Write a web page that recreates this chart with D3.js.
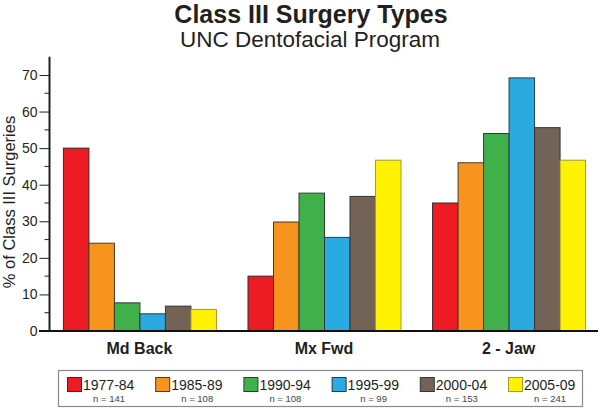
<!DOCTYPE html>
<html>
<head>
<meta charset="utf-8">
<script src="https://cdn.jsdelivr.net/npm/d3@7"></script>
<style>
  html, body { margin: 0; padding: 0; background: #fff; }
  svg { display: block; font-family: "Liberation Sans", Arial, sans-serif; }
</style>
</head>
<body>
<svg id="chart" width="600" height="409"></svg>
<script>
const categories = ["Md Back", "Mx Fwd", "2 - Jaw"];
const seriesNames = ["1977-84", "1985-89", "1990-94", "1995-99", "2000-04", "2005-09"];
const seriesN = ["n = 141", "n = 108", "n = 108", "n = 99", "n = 153", "n = 241"];
const s1977 = [50, 15, 35];
const s1985 = [24, 29.8, 46];
const s1990 = [7.7, 37.7, 54];
const s1995 = [4.7, 25.6, 69.2];
const s2000 = [6.8, 36.8, 55.6];
const s2005 = [5.9, 46.7, 46.7];
const seriesValues = [s1977, s1985, s1990, s1995, s2000, s2005];
const yTicks = [0, 10, 20, 30, 40, 50, 60, 70];
const colors = ["#ed1c24", "#f7941d", "#3fb04a", "#29abe2", "#736357", "#fff200"];
const strokes = ["#3a2a2a", "#4a3a2a", "#2f3f2f", "#2a3a44", "#3a3530", "#a39a35"];

const svg = d3.select("#chart");
const textColor = "#231f20";

const x0 = d3.scaleBand().domain(categories).range([50, 598]).paddingInner(0.171).paddingOuter(0.07);
const x1 = d3.scaleBand().domain(seriesNames).range([0, x0.bandwidth()]);
const y = d3.scaleLinear().domain([0, 75]).range([331, 56.7]);

// Title
svg.append("text").attr("x", 311).attr("y", 23).attr("text-anchor", "middle")
  .attr("font-size", 25).attr("font-weight", "bold").attr("fill", textColor)
  .text("Class III Surgery Types");
svg.append("text").attr("x", 310).attr("y", 47).attr("text-anchor", "middle")
  .attr("font-size", 22.5).attr("fill", textColor)
  .text("UNC Dentofacial Program");

// Bars
const groups = svg.append("g").selectAll("g").data(categories).join("g")
  .attr("transform", d => `translate(${x0(d)},0)`);
groups.selectAll("rect")
  .data((c, ci) => seriesNames.map((s, si) => ({ s, si, v: seriesValues[si][ci] })))
  .join("rect")
  .attr("x", d => x1(d.s) + 0.5)
  .attr("y", d => y(d.v))
  .attr("width", x1.bandwidth())
  .attr("height", d => y(0) - y(d.v))
  .attr("fill", d => colors[d.si])
  .attr("stroke", d => strokes[d.si])
  .attr("stroke-width", 1);

// Y axis
const yAxis = d3.axisLeft(y).tickValues(yTicks).tickSize(10).tickPadding(2);
const gy = svg.append("g").attr("transform", "translate(49.5,0)").call(yAxis);
gy.select(".domain").attr("stroke", textColor).attr("stroke-width", 2).attr("d", `M0,${y(75)}V${y(0)}`);
gy.selectAll(".tick line").attr("stroke", textColor).attr("stroke-width", 1);
gy.selectAll(".tick text").attr("font-size", 14).attr("fill", textColor)
  .attr("font-family", "Liberation Sans, Arial, sans-serif");
// minor ticks
const minor = d3.range(5, 75, 10);
svg.append("g").selectAll("line").data(minor).join("line")
  .attr("x1", 44.5).attr("x2", 49.5)
  .attr("y1", d => y(d)).attr("y2", d => y(d))
  .attr("stroke", textColor).attr("stroke-width", 1);

// X baseline
svg.append("line").attr("x1", 39).attr("x2", 598).attr("y1", y(0)).attr("y2", y(0))
  .attr("stroke", "#111").attr("stroke-width", 2);

// X category labels
const xAxis = d3.axisBottom(x0).tickSize(0).tickPadding(12);
const gx = svg.append("g").attr("transform", `translate(0,${y(0)})`).call(xAxis);
gx.select(".domain").remove();
gx.selectAll(".tick text").attr("font-size", 16).attr("font-weight", "bold").attr("fill", textColor)
  .attr("font-family", "Liberation Sans, Arial, sans-serif");

// Y label
svg.append("text").attr("transform", "translate(15,202) rotate(-90)")
  .attr("text-anchor", "middle").attr("font-size", 16.5).attr("fill", textColor)
  .text("% of Class III Surgeries");

// Legend
const lg = svg.append("g");
lg.append("rect").attr("x", 58.5).attr("y", 370.5).attr("width", 524).attr("height", 36)
  .attr("fill", "#fff").attr("stroke", "#8a8a8a").attr("stroke-width", 1.2);
const items = lg.selectAll("g.item").data(seriesNames).join("g").attr("class", "item")
  .attr("transform", (d, i) => `translate(${67 + i * 88.2},0)`);
items.append("rect").attr("x", 0.5).attr("y", 377.5).attr("width", 14).attr("height", 14)
  .attr("fill", (d, i) => colors[i]).attr("stroke", (d, i) => strokes[i]).attr("stroke-width", 1);
items.append("text").attr("x", 16).attr("y", 390).attr("font-size", 14).attr("fill", textColor)
  .text(d => d);
items.append("text").attr("x", 42).attr("y", 401.5).attr("text-anchor", "middle")
  .attr("font-size", 9.5).attr("fill", "#444")
  .text((d, i) => seriesN[i]);
</script>
</body>
</html>
